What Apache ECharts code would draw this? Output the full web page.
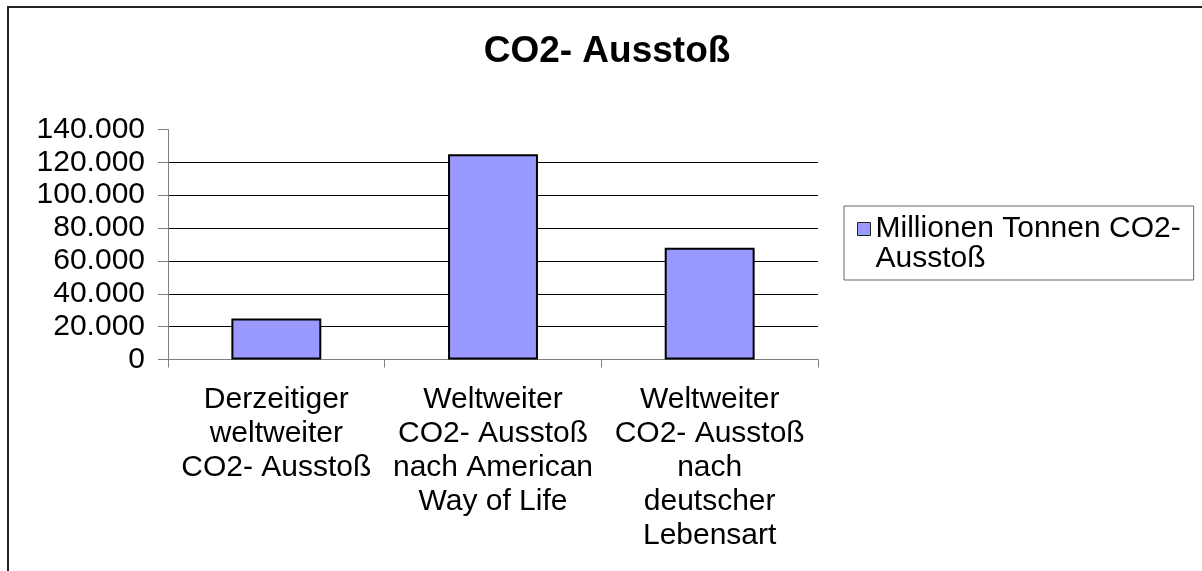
<!DOCTYPE html>
<html>
<head>
<meta charset="utf-8">
<script src="https://cdn.jsdelivr.net/npm/echarts@6/dist/echarts.min.js"></script>
<style>
html,body{margin:0;padding:0;background:#fff;}
#chart{width:1202px;height:571px;}
</style>
</head>
<body>
<div id="chart"></div>
<script>
const titleText = 'CO2- Ausstoß';
const categories = [
  'Derzeitiger\nweltweiter\nCO2- Ausstoß',
  'Weltweiter\nCO2- Ausstoß\nnach American\nWay of Life',
  'Weltweiter\nCO2- Ausstoß\nnach\ndeutscher\nLebensart'
];
const seriesName = 'Millionen Tonnen CO2-\nAusstoß';
const values = [25000, 125000, 68000];
const yMin = 0;
const yMax = 140000;
const yInterval = 20000;

function fmtDE(v) {
  return String(Math.round(v)).replace(/\B(?=(\d{3})+(?!\d))/g, '.');
}

const FONT = 'Liberation Sans, Arial, sans-serif';
const chart = echarts.init(document.getElementById('chart'), null, {renderer: 'canvas'});
chart.setOption({
  animation: false,
  backgroundColor: '#ffffff',
  title: {
    text: titleText,
    left: 602,
    top: 28,
    textAlign: 'center',
    textStyle: {fontFamily: FONT, fontWeight: 'bold', fontSize: 37, color: '#000'}
  },
  graphic: [{
    type: 'rect',
    shape: {x: 8, y: 7, width: 1400, height: 800},
    style: {fill: 'none', stroke: '#222', lineWidth: 2},
    silent: true
  }],
  legend: {
    left: 844,
    top: 206,
    orient: 'vertical',
    padding: [8, 13, 6, 13],
    borderColor: '#666',
    borderWidth: 1,
    itemWidth: 13,
    itemHeight: 43,
    itemGap: 0,
    icon: 'path://M0,0L13,0L13,13L0,13Z M0,43L0,43',
    symbolKeepAspect: true,
    textStyle: {fontFamily: FONT, fontSize: 30, color: '#000', lineHeight: 30},
    data: [{name: seriesName, itemStyle: {color: '#9999ff', borderColor: '#222', borderWidth: 1, borderCap: 'butt'}}]
  },
  grid: {left: 168, right: 384, top: 129.5, bottom: 211.5, containLabel: false},
  xAxis: {
    type: 'category',
    data: categories,
    axisLine: {lineStyle: {color: '#808080', width: 1}},
    axisTick: {show: true, length: 8, lineStyle: {color: '#808080'}},
    axisLabel: {fontFamily: FONT, fontSize: 30, color: '#000', lineHeight: 34, margin: 23, interval: 0}
  },
  yAxis: {
    type: 'value',
    min: yMin,
    max: yMax,
    interval: yInterval,
    axisLine: {show: true, lineStyle: {color: '#808080', width: 1}},
    axisTick: {show: true, length: 10, lineStyle: {color: '#808080'}},
    splitLine: {show: true, showMaxLine: false, lineStyle: {color: '#000', width: 1}},
    axisLabel: {fontFamily: FONT, fontSize: 30, color: '#000', margin: 23, formatter: fmtDE}
  },
  series: [{
    name: seriesName,
    type: 'bar',
    data: values,
    barWidth: '41.5%',
    itemStyle: {color: '#9999ff', borderColor: '#000', borderWidth: 2}
  }]
});
</script>
</body>
</html>
